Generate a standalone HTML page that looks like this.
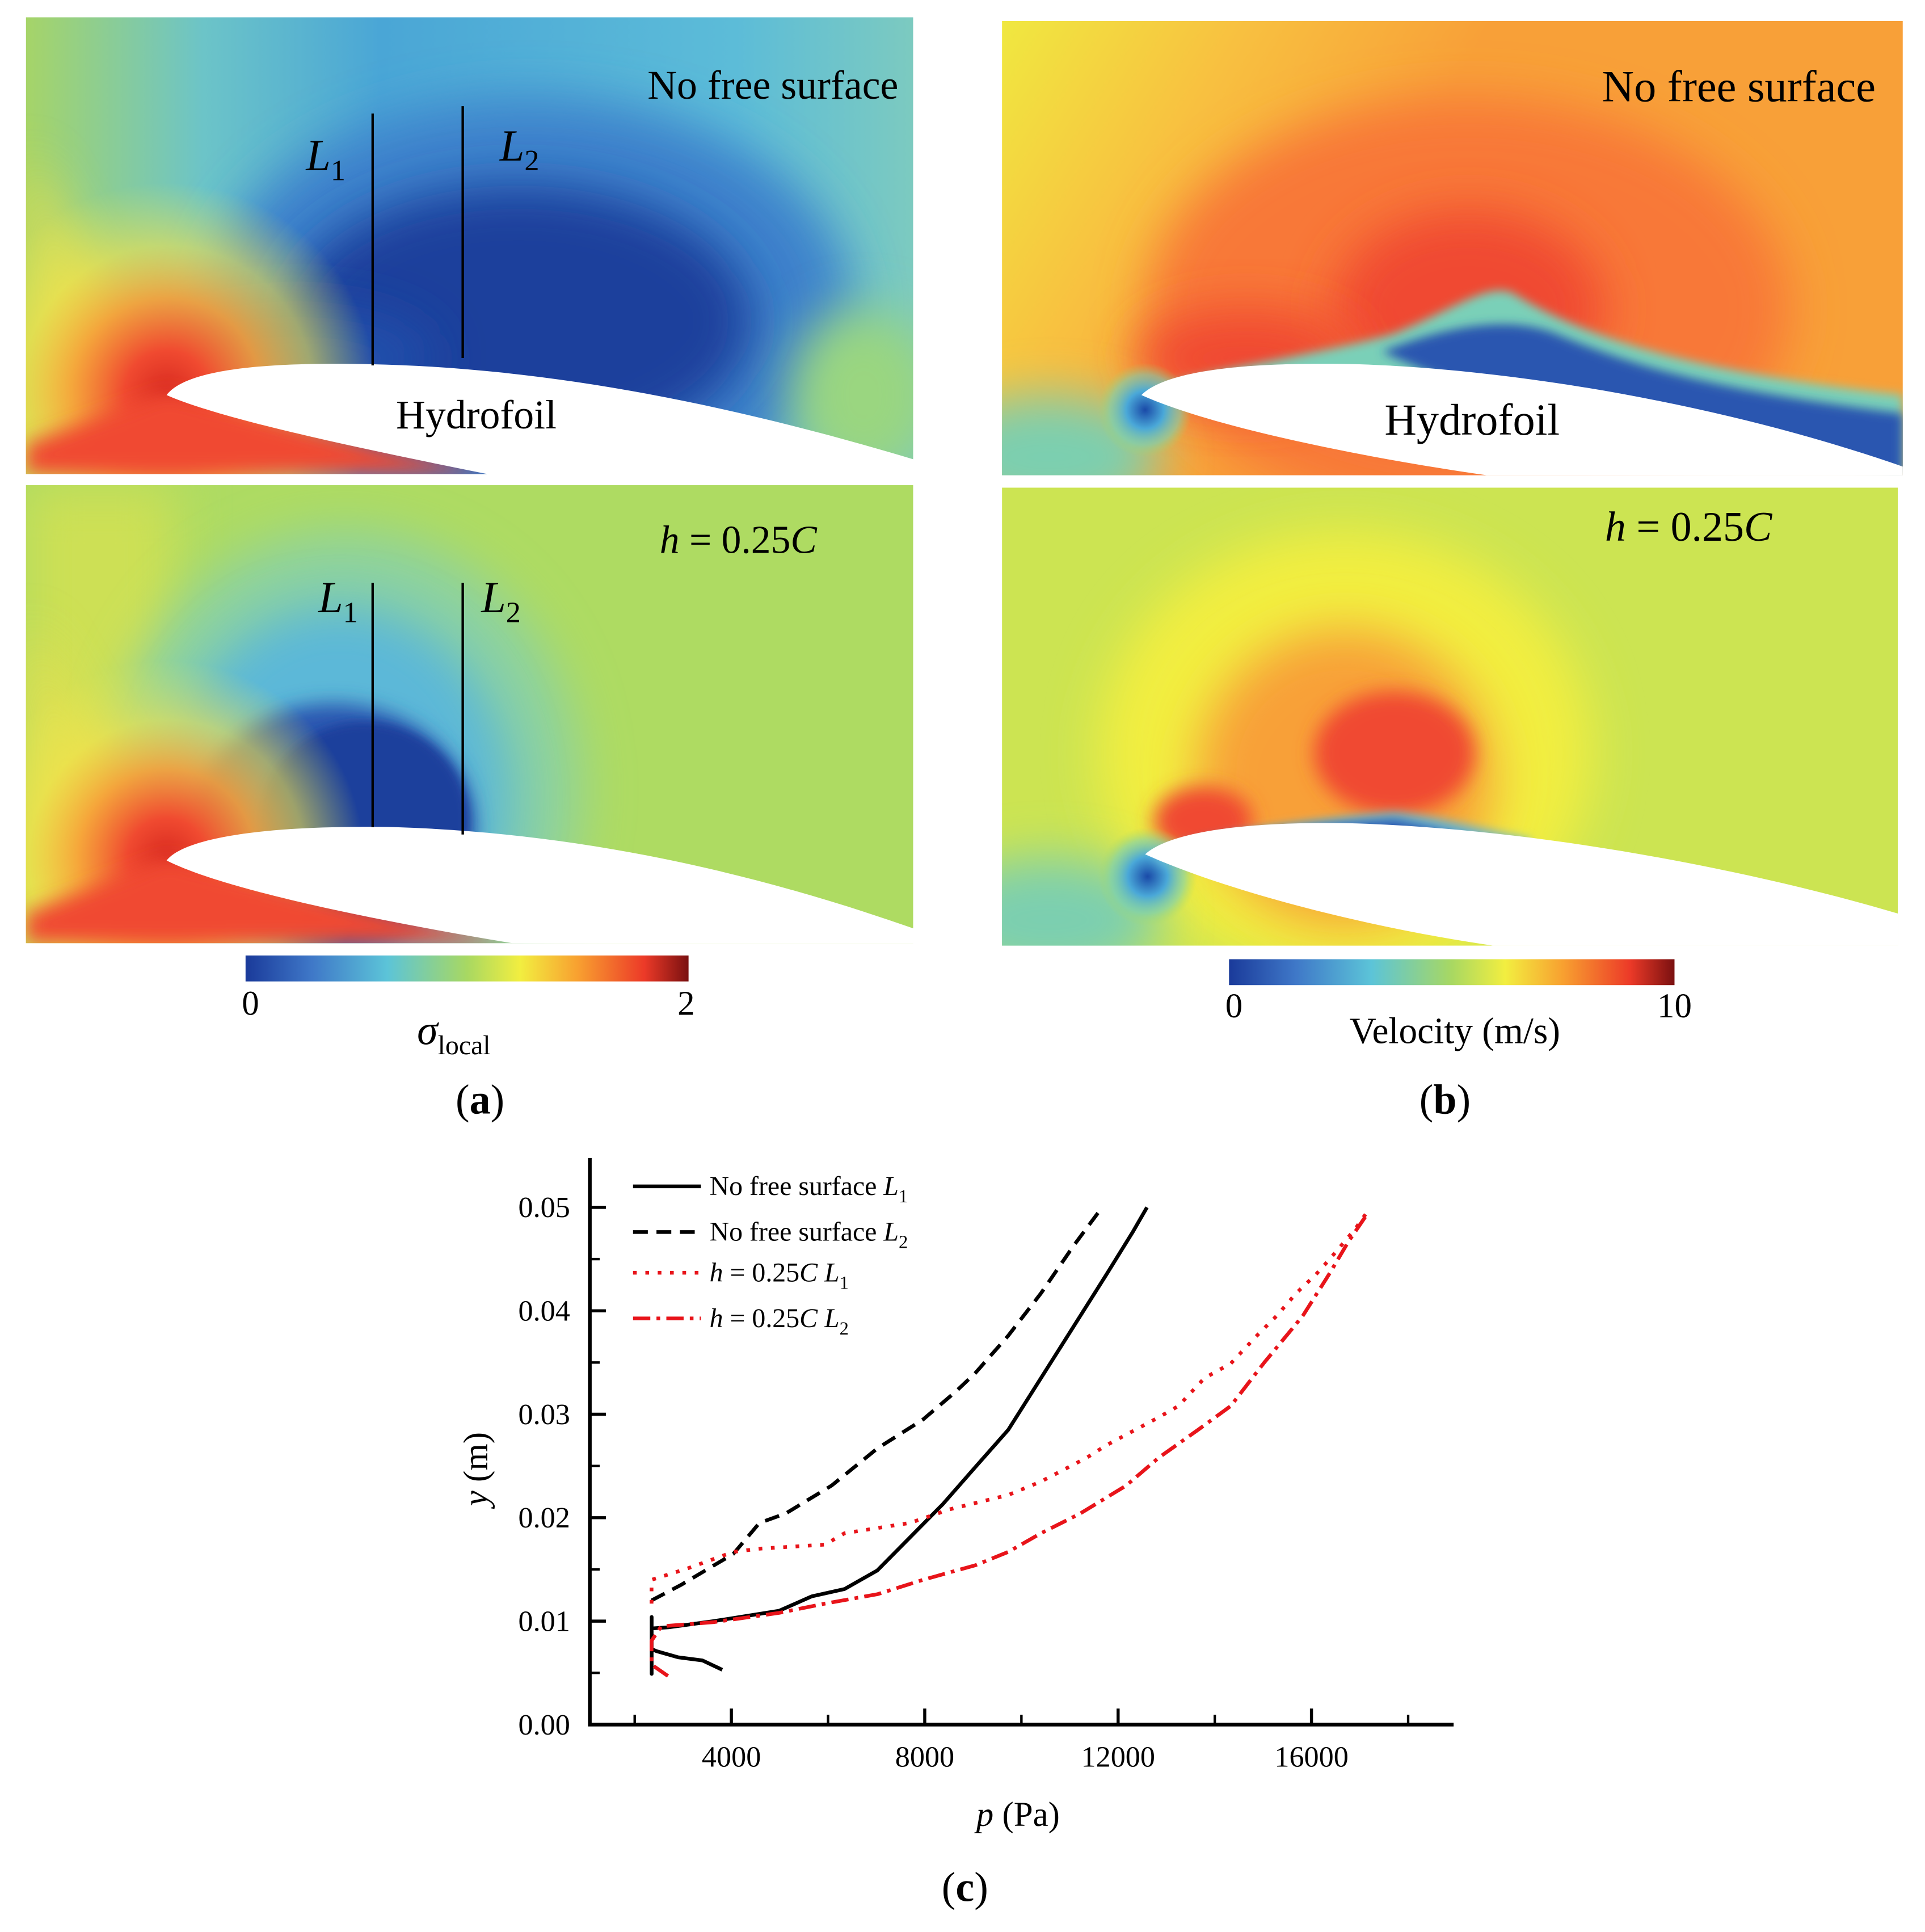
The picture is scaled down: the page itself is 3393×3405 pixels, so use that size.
<!DOCTYPE html>
<html><head><meta charset="utf-8">
<style>
html,body{margin:0;padding:0;background:#fff;}
svg{display:block;}
text{font-family:"Liberation Serif",serif;}
</style></head>
<body>
<svg id="fig" width="3393" height="3405" viewBox="0 0 1560 1565" preserveAspectRatio="none" xmlns="http://www.w3.org/2000/svg">
<defs>
  <filter id="blur20" x="-50%" y="-50%" width="200%" height="200%"><feGaussianBlur stdDeviation="20"/></filter>
  <filter id="blur8" x="-50%" y="-50%" width="200%" height="200%"><feGaussianBlur stdDeviation="8"/></filter>
  <filter id="blur4" x="-50%" y="-50%" width="200%" height="200%"><feGaussianBlur stdDeviation="4"/></filter>
  <clipPath id="cA1"><rect x="21" y="14" width="719" height="370"/></clipPath>
  <clipPath id="cA2"><rect x="21" y="393" width="719" height="371"/></clipPath>
  <clipPath id="cB1"><rect x="812" y="17" width="730" height="368"/></clipPath>
  <clipPath id="cB2"><rect x="812" y="395" width="726" height="371"/></clipPath>
  <linearGradient id="jet" x1="0" x2="1" y1="0" y2="0">
    <stop offset="0" stop-color="#1a3a9a"/><stop offset="0.15" stop-color="#3f78c8"/>
    <stop offset="0.32" stop-color="#5cc4d8"/><stop offset="0.5" stop-color="#a8d862"/>
    <stop offset="0.62" stop-color="#f2ee40"/><stop offset="0.75" stop-color="#f8a030"/>
    <stop offset="0.9" stop-color="#ec3a28"/><stop offset="1" stop-color="#7a1010"/>
  </linearGradient>
  <linearGradient id="a1base" x1="0" x2="1" y1="0" y2="0">
    <stop offset="0" stop-color="#a6d468"/><stop offset="0.2" stop-color="#6cc4c8"/>
    <stop offset="0.4" stop-color="#4aa6d6"/><stop offset="0.8" stop-color="#5cbcd8"/>
    <stop offset="1" stop-color="#7ccac0"/>
  </linearGradient>
  <radialGradient id="leA" cx="0.5" cy="0.5" r="0.5">
    <stop offset="0" stop-color="#d82a20"/><stop offset="0.2" stop-color="#f04a30"/>
    <stop offset="0.45" stop-color="#f8a038" stop-opacity="0.9"/><stop offset="0.7" stop-color="#f2e24a" stop-opacity="0.6"/>
    <stop offset="1" stop-color="#e8ea50" stop-opacity="0"/>
  </radialGradient>
  <linearGradient id="b1base" x1="0" x2="1" y1="0" y2="0.3">
    <stop offset="0" stop-color="#f0e840"/><stop offset="0.25" stop-color="#f8c040"/>
    <stop offset="0.5" stop-color="#f8a038"/><stop offset="1" stop-color="#f8a038"/>
  </linearGradient>
  <radialGradient id="blueLE" cx="0.5" cy="0.5" r="0.5">
    <stop offset="0" stop-color="#1a4aa8"/><stop offset="0.4" stop-color="#4aa8d8"/>
    <stop offset="0.75" stop-color="#7cd0b0" stop-opacity="0.6"/><stop offset="1" stop-color="#a8d862" stop-opacity="0"/>
  </radialGradient>
</defs>

<!-- Panel a top -->
<g clip-path="url(#cA1)">
  <rect x="21" y="14" width="719" height="370" fill="url(#a1base)"/>
  <ellipse cx="430" cy="250" rx="260" ry="170" fill="#3d82cc" filter="url(#blur20)"/>
  <ellipse cx="420" cy="260" rx="190" ry="110" fill="#1c3f9c" filter="url(#blur20)"/>
  <ellipse cx="240" cy="290" rx="110" ry="40" fill="#2450ac" filter="url(#blur20)"/>
  <ellipse cx="700" cy="320" rx="60" ry="70" fill="#9ad680" filter="url(#blur20)"/>
  <polygon points="21,120 135,318 21,384" fill="#e8e050" filter="url(#blur20)" opacity="0.8"/>
  <circle cx="135" cy="318" r="170" fill="url(#leA)"/>
  <polygon points="21,360 135,318 395,384 21,384" fill="#f04a30" filter="url(#blur8)"/>
  <path d="M135,320 C150,300 210,293 300,295 C450,298 600,330 740,372 L740,384 L395,384 C300,365 180,340 135,320 Z" fill="#fff"/>
</g>
<!-- Panel a bottom -->
<g clip-path="url(#cA2)">
  <rect x="21" y="393" width="719" height="371" fill="#aedb62"/>
  <rect x="21" y="393" width="120" height="371" fill="#cde054" filter="url(#blur20)"/>
  <ellipse cx="280" cy="640" rx="190" ry="210" fill="#8cd2a0" filter="url(#blur20)"/>
  <ellipse cx="275" cy="650" rx="140" ry="160" fill="#5cb8d8" filter="url(#blur20)"/>
  <ellipse cx="270" cy="670" rx="115" ry="100" fill="#2a56b0" filter="url(#blur8)"/>
  <ellipse cx="295" cy="665" rx="85" ry="80" fill="#1c3f9c" filter="url(#blur4)"/>
  <polygon points="21,500 135,695 21,764" fill="#e8e050" filter="url(#blur20)" opacity="0.8"/>
  <circle cx="135" cy="695" r="160" fill="url(#leA)"/>
  <polygon points="21,740 135,695 415,764 21,764" fill="#f04a30" filter="url(#blur8)"/>
  <path d="M135,697 C150,678 220,668 320,670 C480,675 620,710 740,752 L740,764 L415,764 C300,745 180,720 135,697 Z" fill="#fff"/>
</g>
<!-- Panel b top -->
<g clip-path="url(#cB1)">
  <rect x="812" y="17" width="730" height="368" fill="url(#b1base)"/>
  <ellipse cx="1190" cy="250" rx="260" ry="170" fill="#f87838" filter="url(#blur20)"/>
  <ellipse cx="1190" cy="250" rx="110" ry="80" fill="#f04a30" filter="url(#blur20)"/>
  <ellipse cx="1010" cy="290" rx="90" ry="40" fill="#f04a30" filter="url(#blur20)"/>
  <ellipse cx="850" cy="370" rx="90" ry="50" fill="#7ccfb0" filter="url(#blur20)"/>
  <circle cx="928" cy="332" r="38" fill="url(#blueLE)"/>
  <path d="M935,315 C1000,295 1080,285 1130,270 C1180,250 1210,225 1230,240 C1280,270 1360,300 1542,320 L1542,385 L1200,330 Z" fill="#7ad0b8" filter="url(#blur4)"/>
  <path d="M1120,285 C1170,265 1220,255 1260,270 C1320,295 1380,315 1542,335 L1542,385 L1200,320 Z" fill="#2a56b0" filter="url(#blur4)"/>
  <path d="M925,320 C945,300 1010,293 1100,295 C1250,300 1420,335 1542,378 L1542,385 L1205,385 C1100,370 980,345 925,320 Z" fill="#fff"/>
</g>
<!-- Panel b bottom -->
<g clip-path="url(#cB2)">
  <rect x="812" y="395" width="726" height="371" fill="#cce452"/>
  <ellipse cx="1090" cy="610" rx="200" ry="180" fill="#f2ee40" filter="url(#blur20)"/>
  <ellipse cx="1090" cy="630" rx="120" ry="120" fill="#f8a038" filter="url(#blur20)"/>
  <ellipse cx="1130" cy="610" rx="65" ry="50" fill="#f04a30" filter="url(#blur8)"/>
  <ellipse cx="975" cy="665" rx="40" ry="28" fill="#f04a30" filter="url(#blur8)"/>
  <ellipse cx="850" cy="745" rx="90" ry="50" fill="#7ccfb0" filter="url(#blur20)"/>
  <circle cx="930" cy="710" r="40" fill="url(#blueLE)"/>
  <path d="M935,690 C1000,672 1080,662 1130,658 C1170,662 1200,672 1240,680 L1240,690 L940,700 Z" fill="#6ab8d0" filter="url(#blur4)"/>
  <path d="M960,684 C1010,674 1070,668 1130,664 C1160,670 1180,676 1200,682 L960,690 Z" fill="#2a56b0" filter="url(#blur4)"/>
  <path d="M928,692 C950,672 1020,665 1100,667 C1250,672 1420,705 1538,740 L1538,766 L1210,766 C1100,750 990,720 928,692 Z" fill="#fff"/>
</g>

<!-- Panel annotations -->
<g fill="#000">
  <text x="728" y="80" font-size="33" text-anchor="end">No free surface</text>
  <text x="1520" y="82" font-size="36" text-anchor="end">No free surface</text>
  <text x="386" y="347" font-size="33" text-anchor="middle">Hydrofoil</text>
  <text x="1193" y="352" font-size="36" text-anchor="middle">Hydrofoil</text>
  <text x="662" y="448" font-size="32" text-anchor="end"><tspan font-style="italic">h</tspan> = 0.25<tspan font-style="italic">C</tspan></text>
  <text x="1436" y="438" font-size="34" text-anchor="end"><tspan font-style="italic">h</tspan> = 0.25<tspan font-style="italic">C</tspan></text>
  <line x1="302" y1="92" x2="302" y2="296" stroke="#000" stroke-width="2"/>
  <line x1="375" y1="86" x2="375" y2="290" stroke="#000" stroke-width="2"/>
  <line x1="302" y1="472" x2="302" y2="670" stroke="#000" stroke-width="2"/>
  <line x1="375" y1="472" x2="375" y2="676" stroke="#000" stroke-width="2"/>
  <text x="248" y="138" font-size="36" font-style="italic">L<tspan font-size="24" font-style="normal" dy="8">1</tspan></text>
  <text x="405" y="130" font-size="36" font-style="italic">L<tspan font-size="24" font-style="normal" dy="8">2</tspan></text>
  <text x="258" y="496" font-size="36" font-style="italic">L<tspan font-size="24" font-style="normal" dy="8">1</tspan></text>
  <text x="390" y="496" font-size="36" font-style="italic">L<tspan font-size="24" font-style="normal" dy="8">2</tspan></text>
</g>

<!-- Colorbars -->
<g>
  <rect x="199" y="774" width="359" height="21" fill="url(#jet)"/>
  <text x="203" y="822" font-size="28" text-anchor="middle">0</text>
  <text x="556" y="822" font-size="28" text-anchor="middle">2</text>
  <text x="338" y="846" font-size="34" font-style="italic">σ<tspan font-size="22" font-style="normal" dy="8">local</tspan></text>
</g>
<g>
  <rect x="996" y="777" width="361" height="21" fill="url(#jet)"/>
  <text x="1000" y="824" font-size="28" text-anchor="middle">0</text>
  <text x="1357" y="824" font-size="28" text-anchor="middle">10</text>
  <text x="1179" y="845" font-size="30" text-anchor="middle">Velocity (m/s)</text>
</g>
<text x="389" y="902" font-size="34" text-anchor="middle">(<tspan font-weight="bold">a</tspan>)</text>
<text x="1171" y="902" font-size="34" text-anchor="middle">(<tspan font-weight="bold">b</tspan>)</text>
<text x="782" y="1540" font-size="34" text-anchor="middle">(<tspan font-weight="bold">c</tspan>)</text>

<g id="chart"></g>
</svg>
<script>
var xTicks = [4000, 8000, 12000, 16000];
var xMinorTicks = [2000, 6000, 10000, 14000, 18000];
var yTicks = [0.00, 0.01, 0.02, 0.03, 0.04, 0.05];
var yTickLabels = ["0.00", "0.01", "0.02", "0.03", "0.04", "0.05"];
var yMinorTicks = [0.005, 0.015, 0.025, 0.035, 0.045];
var seriesNames = ["No free surface L1", "No free surface L2", "h = 0.25C L1", "h = 0.25C L2"];
var l1P = [3810,3400,2900,2450,2350,2350,2350,2350,2700,3634,4988,5665,6342,7019,7696,8373,9050,9727,10405,11081,11758,12300,12598];
var l1Y = [0.0053,0.0062,0.0065,0.0071,0.0073,0.0049,0.0104,0.0093,0.0094,0.0100,0.0110,0.0124,0.0131,0.0149,0.0181,0.0213,0.0249,0.0285,0.0335,0.0385,0.0435,0.0476,0.0500];
var l2P = [2348,2957,4041,4582,5124,6072,7019,7967,8644,9050,9727,10405,11081,11622];
var l2Y = [0.0120,0.0135,0.0165,0.0195,0.0204,0.0231,0.0267,0.0295,0.0322,0.0340,0.0376,0.0417,0.0463,0.0497];
var h1P = [2348,2348,3093,4041,4582,5936,6342,7696,8508,9727,10405,11352,11758,12841,13247,13788,14330,14872,15278,15684,16090,16361,16903,17174];
var h1Y = [0.0117,0.0140,0.0151,0.0167,0.0170,0.0174,0.0185,0.0195,0.0208,0.0222,0.0235,0.0258,0.0270,0.0297,0.0308,0.0335,0.0349,0.0376,0.0395,0.0417,0.0435,0.0449,0.0479,0.0497];
var h2P = [2687,2348,2348,2551,3634,4988,5936,7019,7967,9050,9727,10405,11217,12165,12841,13653,14330,15007,15820,16361,16767,17174];
var h2Y = [0.0047,0.0058,0.0081,0.0095,0.0099,0.0108,0.0117,0.0126,0.0140,0.0154,0.0167,0.0185,0.0204,0.0231,0.0258,0.0285,0.0308,0.0349,0.0395,0.0435,0.0467,0.0495];

var NS = "http://www.w3.org/2000/svg";
var g = document.getElementById("chart");
function X(p){ return 436 + p * (156.7/4000); }
function Y(v){ return 1397 - v * (419/0.05); }
function mk(tag, attrs){ var e = document.createElementNS(NS, tag); for (var k in attrs) e.setAttribute(k, attrs[k]); g.appendChild(e); return e; }

var ax = mk("path", {d:"M478,938 L478,1397 L1178,1397", fill:"none", stroke:"#000", "stroke-width":"3"});


xTicks.forEach(function(t){
  var l = mk("line", {x1:X(t), x2:X(t), y1:1397, y2:1384, stroke:"#000", "stroke-width":"2.5"});
  
  
  var tx = mk("text", {x:X(t), y:1431, "font-size":"24", "text-anchor":"middle"});
  
  
  tx.textContent = String(t);
});
xMinorTicks.forEach(function(t){
  var l = mk("line", {x1:X(t), x2:X(t), y1:1397, y2:1389, stroke:"#000", "stroke-width":"2"});
  
  
});
yTicks.forEach(function(t, i){
  var l = mk("line", {x1:478, x2:491, y1:Y(t), y2:Y(t), stroke:"#000", "stroke-width":"2.5"});
  
  
  var tx = mk("text", {x:462, y:Y(t)+8, "font-size":"24", "text-anchor":"end"});
  
  
  tx.textContent = yTickLabels[i];
});
yMinorTicks.forEach(function(t){
  var l = mk("line", {x1:478, x2:486, y1:Y(t), y2:Y(t), stroke:"#000", "stroke-width":"2"});
  
  
});
var xl = mk("text", {x:825, y:1479, "font-size":"28", "text-anchor":"middle"});


xl.innerHTML = '<tspan font-style="italic">p</tspan> (Pa)';
var yl = mk("text", {x:0, y:0, "font-size":"28", "text-anchor":"middle", transform:"translate(395,1190) rotate(-90)"});


yl.innerHTML = '<tspan font-style="italic">y</tspan> (m)';

var styles = [
  {c:"#000", d:"none"},
  {c:"#000", d:"12 7"},
  {c:"#e8141a", d:"3 7"},
  {c:"#e8141a", d:"14 5 3 5"}
];
var ps = [l1P, l2P, h1P, h2P], ys = [l1Y, l2Y, h1Y, h2Y];
ps.forEach(function(P, s){
  var pts = P.map(function(p, i){ return X(p).toFixed(1) + "," + Y(ys[s][i]).toFixed(1); }).join(" ");
  var pl = mk("polyline", {points:pts, fill:"none", stroke:styles[s].c, "stroke-width":"3", "stroke-dasharray":styles[s].d, "stroke-linejoin":"round"});
  
  
});
var legY = [961, 998, 1031, 1068];
var legHtml = [
  'No free surface <tspan font-style="italic">L</tspan><tspan font-size="15" dy="6">1</tspan>',
  'No free surface <tspan font-style="italic">L</tspan><tspan font-size="15" dy="6">2</tspan>',
  '<tspan font-style="italic">h</tspan> = 0.25<tspan font-style="italic">C</tspan> <tspan font-style="italic">L</tspan><tspan font-size="15" dy="6">1</tspan>',
  '<tspan font-style="italic">h</tspan> = 0.25<tspan font-style="italic">C</tspan> <tspan font-style="italic">L</tspan><tspan font-size="15" dy="6">2</tspan>'
];
seriesNames.forEach(function(n, s){
  var l = mk("line", {x1:513, x2:568, y1:legY[s], y2:legY[s], stroke:styles[s].c, "stroke-width":"3", "stroke-dasharray":styles[s].d});
  
  
  var t = mk("text", {x:575, y:legY[s]+7, "font-size":"22"});
  
  
  t.innerHTML = legHtml[s];
});
</script>
</body></html>
